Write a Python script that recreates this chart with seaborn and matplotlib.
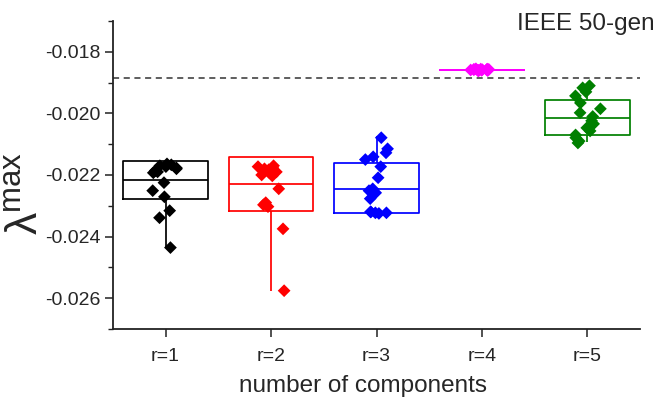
import numpy as np
import pandas as pd
import matplotlib
matplotlib.use("Agg")
import matplotlib.pyplot as plt
import seaborn as sns
from matplotlib.ticker import MultipleLocator, FormatStrFormatter

# ---- data ----
categories = ["r=1", "r=2", "r=3", "r=4", "r=5"]
colors = ["#000000", "#FF0000", "#0000FF", "#FF00FF", "#008000"]

r1_vals = [-0.02164, -0.02167, -0.02170, -0.02173, -0.02177, -0.02180, -0.02186, -0.02190,
           -0.02193, -0.02225, -0.02251, -0.02271, -0.02316, -0.02339, -0.02436]
r2_vals = [-0.02170, -0.02173, -0.02177, -0.02180, -0.02183, -0.02186, -0.02190, -0.02193,
           -0.02200, -0.02203, -0.02245, -0.02290, -0.02297, -0.02303, -0.02375, -0.02576]
r3_vals = [-0.02079, -0.02115, -0.02128, -0.02141, -0.02150, -0.02173, -0.02209, -0.02245,
           -0.02251, -0.02254, -0.02258, -0.02277, -0.02320, -0.02323, -0.02323, -0.02325, -0.02320]
r4_vals = [-0.01855, -0.01856, -0.01857, -0.01858, -0.01858, -0.01859, -0.01860, -0.01860,
           -0.01861, -0.01857, -0.01856, -0.01859, -0.01862, -0.01858, -0.01860]
r5_vals = [-0.01910, -0.01917, -0.01930, -0.01943, -0.01966, -0.01985, -0.01998, -0.02010,
           -0.02024, -0.02034, -0.02047, -0.02057, -0.02070, -0.02079, -0.02090, -0.02096]

# box statistics: [lower whisker, Q1, median, Q3, upper whisker]
box_r1 = [-0.02436, -0.02277, -0.02216, -0.02154, -0.02154]
box_r2 = [-0.02576, -0.02316, -0.02229, -0.02141, -0.02141]
box_r3 = [-0.02323, -0.02323, -0.02245, -0.02160, -0.02073]
box_r4 = [-0.018584, -0.018584, -0.018584, -0.018584, -0.018584]
box_r5 = [-0.02092, -0.02070, -0.02014, -0.01956, -0.01910]

ref_line = -0.01884
title_text = "IEEE 50-gen"
xlabel = "number of components"

# ---- build tables ----
point_sets = [r1_vals, r2_vals, r3_vals, r4_vals, r5_vals]
box_sets = [box_r1, box_r2, box_r3, box_r4, box_r5]
pts = pd.DataFrame({"r": np.repeat(categories, [len(v) for v in point_sets]),
                    "val": np.concatenate(point_sets)})
boxes = pd.DataFrame({"r": np.repeat(categories, [len(v) for v in box_sets]),
                      "val": np.concatenate(box_sets)})

sns.set_style("ticks")
plt.rcParams["font.family"] = ["Liberation Sans", "DejaVu Sans"]
plt.rcParams["mathtext.fontset"] = "custom"
plt.rcParams["mathtext.rm"] = "Liberation Sans"
plt.rcParams["mathtext.it"] = "Liberation Sans"

fig = plt.figure(figsize=(6.6, 4.05), dpi=100)
ax = fig.add_axes([0.171, 0.188, 0.799, 0.760])

pal = dict(zip(categories, colors))
sns.boxplot(data=boxes, x="r", y="val", hue="r", palette=pal, order=categories,
            hue_order=categories, fill=False, whis=(0, 100), showcaps=False,
            showfliers=False, width=0.8, linewidth=1.25, legend=False, ax=ax)

np.random.seed(3)
sns.stripplot(data=pts, x="r", y="val", hue="r", palette=pal, order=categories,
              hue_order=categories, marker="D", size=6.5, jitter=0.13,
              linewidth=0, legend=False, ax=ax, zorder=5)

ax.axhline(ref_line, color="#333333", ls=(0, (4, 3)), lw=1.1, zorder=1)

ax.set_xlim(-0.5, 4.5)
ax.yaxis.set_major_locator(MultipleLocator(0.002))
ax.yaxis.set_minor_locator(MultipleLocator(0.001))
ax.yaxis.set_major_formatter(FormatStrFormatter("%.3f"))
ax.set_yticks(np.arange(-0.026, -0.0169, 0.002))
ax.set_ylim(-0.027, -0.017)

for s in ["top", "right"]:
    ax.spines[s].set_visible(False)
for s in ["left", "bottom"]:
    ax.spines[s].set_linewidth(1.3)
    ax.spines[s].set_color("#222222")

ax.tick_params(axis="both", which="major", direction="out", length=6, width=1.1,
               labelsize=14, color="#222222")
ax.tick_params(axis="y", which="major", pad=3)
ax.tick_params(axis="y", which="minor", direction="out", length=3.5, width=1.0, color="#222222")
ax.tick_params(axis="x", pad=8)

ax.set_xlabel(xlabel, fontsize=17.5, va="top")
ax.xaxis.set_label_coords(0.474, -0.150)
ax.set_ylabel(r"λ$^{\mathrm{max}}$", fontsize=32)
ax.yaxis.set_label_coords(-0.125, 0.44)

fig.text(0.992, 0.94, title_text, ha="right", va="center", fontsize=17.5)

fig.savefig("out.png", dpi=100)
